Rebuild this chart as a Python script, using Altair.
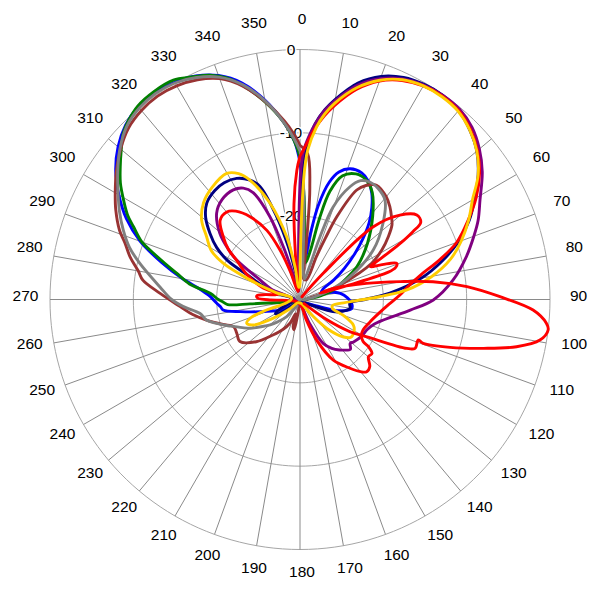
import altair as alt
import pandas as pd

# ---------------- data (angle in degrees clockwise from north, level in dB) ----------------
blue_angle = [0, 2, 4, 7, 9, 11, 14, 17, 21, 26, 30, 34, 38, 42, 46, 50, 55, 60, 66, 72, 78, 81.5, 88, 94, 100, 104, 107.6, 112, 140, 210, 235, 242, 253, 258.5, 262.2, 265, 267.4, 272, 276, 280, 285, 290, 295, 300, 305, 310, 315, 320, 325, 330, 335, 340, 345, 350, 355, 358, 360]
blue_db = [-13.5, -17.5, -23, -25, -22, -18.5, -15.5, -14, -13.2, -13.1, -13.6, -14.6, -16, -17.6, -19.5, -21.4, -23.5, -25.3, -27, -27.3, -25.8, -25.1, -24.3, -23.8, -23.7, -24.5, -25.8, -28, -29.5, -29.5, -28.3, -27.3, -25, -22.7, -20.7, -20.4, -20, -19.2, -17.9, -15.7, -12.8, -9.6, -7.0, -4.9, -3.0, -1.5, -0.4, 0.2, 0.3, 0.1, -0.4, -1.4, -3.1, -5.7, -8.8, -11.0, -13.5]

green_angle = [0, 2, 5, 9, 12, 13.5, 15.5, 19, 24, 29, 34, 41, 50, 60, 67, 74, 80, 90, 200, 240, 258, 263, 265, 266, 268, 270, 274, 278, 282, 285, 288.3, 290, 293.6, 296, 299.4, 303, 306.4, 310, 313.2, 316, 320, 325, 330, 334, 338.2, 341.7, 346.6, 351.2, 355.6, 358.8, 360]
green_db = [-13.0, -17, -23, -25.5, -24, -20, -16.5, -14.3, -13.5, -13.6, -14.5, -16.7, -19.4, -22.1, -24.3, -25.8, -27.5, -29.3, -29.5, -29.3, -28.3, -26.8, -24, -21.3, -20.8, -20.2, -19.2, -16.6, -14.9, -13.2, -11, -9.8, -8.2, -7.0, -5.7, -4.3, -3.2, -2.0, -0.9, -0.3, 0.3, 0.5, 0.4, -0.3, -1.0, -2.0, -4.2, -6.6, -9.2, -11.7, -13.0]

brown_angle = [0, 3, 5, 6, 7, 10, 18, 21, 22.5, 24, 27.4, 30, 33.8, 40, 44.1, 47.9, 51, 54.6, 58.8, 63.2, 69.5, 75, 85, 180, 188, 191, 194, 197, 200, 203, 210, 217, 226, 235, 242, 247.8, 252, 257.6, 262, 266.6, 272.5, 277, 280, 284, 288, 291, 296, 300, 305, 310, 315, 320, 325, 330, 335, 340, 345, 350, 355, 358, 360]
brown_db = [-11.5, -12.5, -16.5, -21, -25, -27.5, -27.5, -24.5, -22, -19.1, -15.2, -14.2, -13.5, -13.9, -14.5, -15.2, -15.8, -17, -18.5, -20.4, -24.5, -27, -29, -29.5, -28.5, -26.3, -26.6, -28.2, -27.8, -26.9, -25.8, -24.7, -22.7, -21.2, -21.4, -21.4, -20.3, -18.5, -17, -15.6, -13.2, -11, -10.3, -9.0, -7.9, -6.8, -5.4, -4.4, -3.1, -1.9, -0.9, -0.4, -0.2, -0.4, -0.9, -1.8, -3.5, -5.9, -8.5, -10.2, -11.5]

gray_angle = [0, 1.5, 3, 6, 12, 16, 17.7, 19.7, 23.9, 27, 30.7, 35, 40.5, 47.5, 56, 65.5, 72, 80, 100, 200, 217.7, 225, 229.6, 235, 240, 244, 248, 250, 254, 257.6, 262, 266.5, 270, 275.2, 282.7, 287, 291.5, 296, 300, 305, 310, 315, 320, 325, 330, 335, 340, 345, 350, 355, 358, 360]
gray_db = [-12.2, -15.5, -21, -26.5, -27.5, -26, -22.1, -18.2, -15.2, -14, -13.6, -13.7, -14.3, -16.5, -19.4, -23.4, -26, -28.3, -29.5, -29.3, -27.4, -26.2, -25.3, -24.3, -23.1, -22.3, -21.4, -20.8, -19.6, -18.5, -17.9, -16, -14.6, -13.1, -10.3, -8.6, -7.2, -5.9, -4.8, -3.3, -1.8, -0.6, 0, 0.2, 0, -0.6, -1.6, -3.3, -5.8, -8.8, -10.8, -12.2]

navy_angle = [0, 0.5, 1.5, 3, 5, 7.5, 10, 15, 20, 25, 30, 35, 40, 45, 50, 55, 60, 65, 70, 75, 80, 86, 90, 94, 100, 105, 110, 116, 140, 225, 233, 237, 240, 244, 250, 275, 285, 290, 294.5, 298.3, 302, 306.3, 311, 316, 322, 327, 332.4, 337, 340.5, 344.3, 347.5, 351, 355, 359, 360]
navy_db = [-22, -17, -13, -11, -8.8, -7.0, -5.6, -3.1, -1.5, -0.6, -0.2, -0.1, -0.4, -1.2, -2.3, -3.9, -5.8, -7.6, -9.8, -12.4, -15.2, -19.2, -22.2, -24, -23.9, -24.6, -25.8, -28.3, -29.5, -29.3, -28, -26.8, -26.6, -27.2, -28.8, -29.3, -27.5, -25.3, -23.4, -20.1, -18.2, -16.6, -15, -13.9, -13.4, -13.3, -13.6, -14.4, -15.6, -19.7, -23.5, -27, -28.5, -26, -22]

purple_angle = [0, 0.5, 1.5, 3, 5, 7.5, 10, 15, 20, 25, 30, 35, 40, 45, 50, 55, 61, 66, 70, 75.6, 82.8, 90.2, 95.5, 103.8, 109, 114.6, 121, 128.4, 131.2, 134.7, 139.4, 142, 147, 152, 158, 165, 200, 250, 285, 290, 296, 302, 305, 309.6, 316, 322, 328.7, 333, 336.3, 340, 342.5, 345, 350, 355, 358, 359.5, 360]
purple_db = [-16, -14, -12, -10.5, -8.8, -7.1, -5.8, -3.4, -1.8, -0.8, -0.3, -0.1, -0.2, -0.8, -1.9, -3.3, -5.3, -6.6, -7.8, -9.4, -11.5, -14, -16.7, -19.7, -20.7, -21.2, -21.4, -21.8, -22, -21.5, -22, -22.3, -23, -24, -26.8, -29, -29.5, -29.5, -28.5, -26.3, -24.7, -21, -19.5, -17.5, -15.6, -14.8, -14.6, -15, -16, -19.4, -23.4, -27, -29, -28.5, -25, -19, -16]

yellow_angle = [0, 1.2, 2, 3, 5.5, 7.5, 10, 15, 20, 25, 30, 35, 40, 45, 50, 55, 60, 65, 70, 75, 80, 85, 88, 90, 95, 100, 105, 110, 115.6, 120, 126.6, 130.7, 137, 145, 160, 215, 228, 234.9, 241.4, 245.9, 249.4, 252.5, 258, 280, 286, 291.3, 295.3, 299, 303.9, 309, 315.1, 322, 329.8, 334, 337.3, 342.7, 348, 351.3, 354, 358, 360]
yellow_db = [-26, -19, -14.5, -12, -9.2, -7.6, -6.1, -3.7, -2.0, -0.9, -0.4, -0.3, -0.5, -1.2, -2.3, -3.9, -6.1, -7.7, -9.4, -11.3, -13.9, -17.2, -20.5, -22.4, -25, -26, -26, -24.5, -22.9, -22.5, -22.4, -23.1, -25.2, -28.2, -29.5, -29.5, -28.2, -26.1, -23.6, -23, -23.6, -25.8, -28.5, -29, -27, -23.6, -19.8, -17.8, -16.5, -14.8, -13.6, -12.9, -12.5, -13.2, -14.5, -17.9, -22.3, -26, -28.5, -28.5, -26]

# red trace, first part (main lobe, left side lobe, lower lobe)
red_a_angle = [0, 2, 5, 7.5, 10, 15, 20, 25, 30, 35, 40, 45, 50, 55, 60, 65, 70, 74, 78.5, 83, 87.4, 93, 99.2, 108, 115.7, 120, 123.7, 124.6, 126.9, 129.9, 133.8, 137.3, 140, 144, 151.2, 157.6, 163, 170, 255, 263, 266, 269, 272, 275, 278, 281, 284, 288, 295, 301.9, 305, 309.3, 314.8, 320.1, 324, 328.9, 334.4, 338, 341, 345, 351, 354, 356.4, 358.6, 360]
red_a_db = [-12.8, -11.6, -9.4, -7.8, -6.4, -3.9, -2.1, -1.0, -0.4, -0.2, -0.4, -1.1, -2.2, -3.7, -5.6, -7.8, -10.0, -12.5, -15.2, -16.9, -18, -19.3, -20.3, -21.2, -21.6, -21.5, -20.9, -20, -19.2, -19.3, -18.4, -18.2, -18.7, -19.8, -21.7, -24.7, -27.5, -29.3, -29.3, -28.3, -28.5, -26.5, -24.9, -24.8, -25.8, -27, -27.3, -25.2, -23, -21, -19.5, -18.1, -16.5, -16.3, -16.9, -18.4, -20.8, -23.6, -26.5, -29, -28.8, -25, -18.5, -14.5, -12.8]

# red trace, second part (side lobe near 55 deg and the big lobe near 97 deg)
red_b_angle = [36, 41.6, 45.2, 49.8, 54.1, 57.4, 59, 61, 63, 65, 67, 69.5, 71.5, 72.8, 73.5, 73, 71.4, 76.4, 79.9, 82.4, 85.6, 89.2, 92.6, 95.5, 97, 99.6, 102.3, 104.9, 107.7, 109.6, 108.9, 113, 114.6, 119.1, 122.8, 127, 135]
red_b_db = [-29.6, -25.8, -17.6, -14.3, -12.7, -12.8, -14.2, -16.5, -19, -20.7, -19.3, -17.6, -17.9, -18.9, -24, -27.5, -25.8, -21.8, -17.8, -13.9, -9.9, -6, -2, -0.3, 0, -0.8, -3.4, -7.2, -11.1, -14.3, -15, -15, -15.9, -20.8, -22.9, -26, -29.3]

series = [
    ("blue", "#0000FF", blue_angle, blue_db),
    ("green", "#008000", green_angle, green_db),
    ("brown", "#993333", brown_angle, brown_db),
    ("gray", "#808080", gray_angle, gray_db),
    ("navy", "#000080", navy_angle, navy_db),
    ("purple", "#800080", purple_angle, purple_db),
    ("red_a", "#FF0000", red_a_angle, red_a_db),
    ("yellow", "#FFCC00", yellow_angle, yellow_db),
    ("red_b", "#FF0000", red_b_angle, red_b_db),
]

spoke_angles = list(range(0, 360, 10))
ring_levels = [-20, -10, 0]
radial_labels = ["-20", "-10", "0"]
angle_labels = [str(a) for a in spoke_angles]

# ---------------- scales ----------------
XS = alt.Scale(domain=[-1.168, 1.168], nice=False, zero=False)
YS = alt.Scale(domain=[-1.166, 1.166], nice=False, zero=False)
FONT = "Liberation Sans"

def polar(chart, rfield="rr"):
    return chart.transform_calculate(
        px=f"datum.{rfield} * sin(datum.angle * PI / 180)",
        py=f"datum.{rfield} * cos(datum.angle * PI / 180)",
    )

# rings
ring_rows = []
for lv in ring_levels:
    for a in range(0, 362, 2):
        ring_rows.append({"ring": lv, "angle": a, "db": lv})
rings = polar(alt.Chart(pd.DataFrame(ring_rows)).transform_calculate(rr="(datum.db + 30) / 30")).mark_line(
    color="#a6a6a6", strokeWidth=1
).encode(
    x=alt.X("px:Q", scale=XS, axis=None),
    y=alt.Y("py:Q", scale=YS, axis=None),
    detail="ring:N",
    order="angle:Q",
)

# spokes
spokes = alt.Chart(pd.DataFrame({"angle": spoke_angles})).transform_calculate(
    x0="0", y0="0",
    x1="sin(datum.angle * PI / 180)",
    y1="cos(datum.angle * PI / 180)",
).mark_rule(color="#8a8a8a", strokeWidth=1).encode(
    x=alt.X("x0:Q", scale=XS, axis=None),
    y=alt.Y("y0:Q", scale=YS, axis=None),
    x2="x1:Q",
    y2="y1:Q",
)

# angle labels
alab = polar(alt.Chart(pd.DataFrame({"angle": spoke_angles, "label": angle_labels})).transform_calculate(rr="1.106")).mark_text(
    font=FONT, fontSize=15.5, color="#000000", align="center", baseline="middle", dx=2, dy=-4
).encode(
    x=alt.X("px:Q", scale=XS, axis=None),
    y=alt.Y("py:Q", scale=YS, axis=None),
    text="label:N",
)

# radial labels
rl_df = pd.DataFrame({"db": ring_levels, "label": radial_labels})
rl_base = alt.Chart(rl_df).transform_calculate(rx="0", ry="(datum.db + 30) / 30")
rl_halo = rl_base.mark_text(
    font=FONT, fontSize=15.5, color="#ffffff", stroke="#ffffff", strokeWidth=3, align="center", baseline="middle", dx=-9
).encode(x=alt.X("rx:Q", scale=XS, axis=None), y=alt.Y("ry:Q", scale=YS, axis=None), text="label:N")
rl_text = rl_base.mark_text(
    font=FONT, fontSize=15.5, color="#000000", align="center", baseline="middle", dx=-9
).encode(x=alt.X("rx:Q", scale=XS, axis=None), y=alt.Y("ry:Q", scale=YS, axis=None), text="label:N")

layers = [rings, spokes, alab, rl_halo, rl_text]

for name, col, angs, dbs in series:
    df = pd.DataFrame({"angle": angs, "db": dbs, "idx": list(range(len(angs)))})
    ln = polar(alt.Chart(df).transform_calculate(rr="(max(datum.db, -30) + 30) / 30")).mark_line(
        color=col, strokeWidth=2.9, interpolate="catmull-rom", strokeJoin="round", strokeCap="round"
    ).encode(
        x=alt.X("px:Q", scale=XS, axis=None),
        y=alt.Y("py:Q", scale=YS, axis=None),
        order="idx:Q",
    )
    layers.append(ln)

chart = alt.layer(*layers).properties(
    width=584, height=583, padding=0, autosize=alt.AutoSizeParams(type="none")
).configure_view(stroke=None)

chart.save("out.html", embed_options={"renderer": "svg", "actions": False})
